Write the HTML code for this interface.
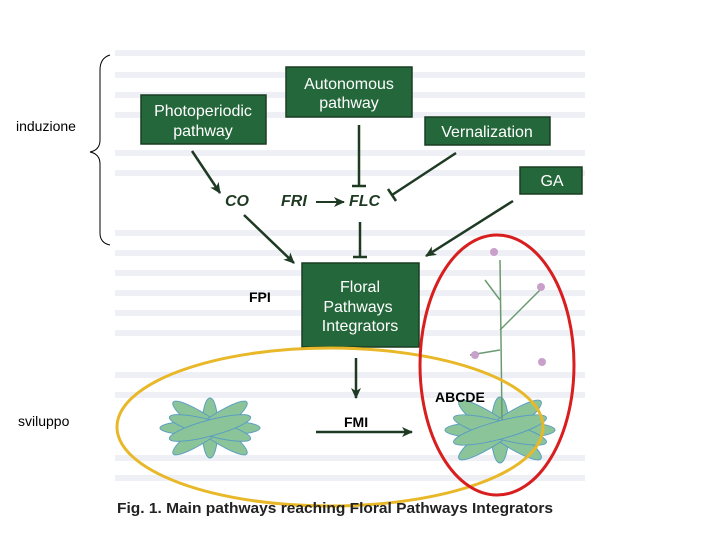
<!DOCTYPE html>
<html><head><style>body{margin:0;background:#fff}svg{display:block}</style></head><body>
<svg width="720" height="540" viewBox="0 0 720 540" xmlns="http://www.w3.org/2000/svg" font-family="Liberation Sans, sans-serif">
<defs><marker id="a" markerUnits="userSpaceOnUse" markerWidth="12" markerHeight="10" refX="10" refY="5" orient="auto"><path d="M0,0 L11,5 L0,10 L3,5 Z" fill="#1e3a22"/></marker></defs>
<g fill="#eef0f5">
<rect x="115" y="50" width="470" height="6"/><rect x="115" y="72" width="470" height="6"/><rect x="115" y="92" width="470" height="6"/><rect x="115" y="112" width="470" height="6"/><rect x="115" y="150" width="470" height="6"/><rect x="115" y="170" width="470" height="6"/><rect x="115" y="230" width="470" height="6"/><rect x="115" y="250" width="470" height="6"/><rect x="115" y="270" width="470" height="6"/><rect x="115" y="290" width="470" height="6"/><rect x="115" y="310" width="470" height="6"/><rect x="115" y="330" width="470" height="6"/><rect x="115" y="372" width="470" height="6"/><rect x="115" y="392" width="470" height="6"/><rect x="115" y="455" width="470" height="6"/><rect x="115" y="475" width="470" height="6"/>
</g>
<g fill="#24673a" stroke="#1a3d22" stroke-width="1.5">
<rect x="141" y="95" width="125" height="49"/><rect x="286" y="67" width="126" height="50"/><rect x="425" y="117" width="125" height="28"/><rect x="520" y="167" width="62" height="27"/><rect x="302" y="263" width="117" height="84"/>
</g>
<g fill="#fff" font-size="16" text-anchor="middle">
<text x="203" y="116">Photoperiodic</text><text x="203" y="136">pathway</text>
<text x="349" y="89">Autonomous</text><text x="349" y="108">pathway</text>
<text x="487" y="137">Vernalization</text><text x="552" y="186">GA</text>
<text x="360" y="292">Floral</text><text x="358" y="312">Pathways</text><text x="360" y="331">Integrators</text>
</g>
<g fill="#1e3a22" font-size="16" font-weight="bold" font-style="italic">
<text x="225" y="206">CO</text><text x="281" y="206">FRI</text><text x="349" y="206">FLC</text>
</g>
<g stroke="#1e3a22" stroke-width="2.5" fill="none">
<line x1="192" y1="151" x2="220" y2="193" marker-end="url(#a)"/>
<line x1="244" y1="215" x2="294" y2="263" marker-end="url(#a)"/>
<line x1="316" y1="202" x2="344" y2="202" stroke-width="2" marker-end="url(#a)"/>
<line x1="359" y1="125" x2="359" y2="186"/><line x1="352" y1="186" x2="366" y2="186"/>
<line x1="456" y1="153" x2="392" y2="195"/><line x1="388" y1="189" x2="396" y2="201"/>
<line x1="360" y1="222" x2="360" y2="257"/><line x1="353" y1="257" x2="367" y2="257"/>
<line x1="513" y1="201" x2="426" y2="256" marker-end="url(#a)"/>
<line x1="356" y1="358" x2="356" y2="398" marker-end="url(#a)"/>
<line x1="316" y1="432" x2="412" y2="432" marker-end="url(#a)"/>
</g>
<g fill="#8cc49a" stroke="#5a9ec0" stroke-width="1">
<ellipse cx="210" cy="428" rx="50" ry="8"/><ellipse cx="210" cy="428" rx="8" ry="30"/><ellipse cx="210" cy="428" rx="45" ry="9" transform="rotate(35 210 428)"/><ellipse cx="210" cy="428" rx="45" ry="9" transform="rotate(-35 210 428)"/><ellipse cx="210" cy="428" rx="42" ry="8" transform="rotate(15 210 428)"/><ellipse cx="210" cy="428" rx="42" ry="8" transform="rotate(-15 210 428)"/>
<ellipse cx="500" cy="430" rx="55" ry="9"/><ellipse cx="500" cy="430" rx="9" ry="33"/><ellipse cx="500" cy="430" rx="50" ry="10" transform="rotate(35 500 430)"/><ellipse cx="500" cy="430" rx="50" ry="10" transform="rotate(-35 500 430)"/><ellipse cx="500" cy="430" rx="48" ry="9" transform="rotate(15 500 430)"/><ellipse cx="500" cy="430" rx="48" ry="9" transform="rotate(-15 500 430)"/>
</g>
<g stroke="#6a9a70" stroke-width="1.5" fill="none"><path d="M502 420 L500 260"/><path d="M500 330 L540 290"/><path d="M500 350 L470 355"/><path d="M500 300 L485 280"/></g>
<g fill="#c9a0c9"><circle cx="494" cy="252" r="4"/><circle cx="541" cy="287" r="4"/><circle cx="542" cy="362" r="4"/><circle cx="475" cy="355" r="4"/></g>
<ellipse cx="330" cy="427" rx="213" ry="79" fill="none" stroke="#e8b828" stroke-width="3"/>
<ellipse cx="497" cy="365" rx="77" ry="130" fill="none" stroke="#d81e1e" stroke-width="3"/>
<path d="M110 55 Q100 58 100 70 L100 140 Q100 150 90 152 Q100 154 100 164 L100 233 Q100 243 110 245" fill="none" stroke="#000" stroke-width="1"/>
<g font-size="14" fill="#000">
<text x="16" y="131">induzione</text><text x="18" y="426">sviluppo</text>
<text x="249" y="302" font-weight="bold">FPI</text><text x="435" y="402" font-weight="bold">ABCDE</text><text x="344" y="427" font-weight="bold">FMI</text>
</g>
<text x="117" y="513" font-size="15" font-weight="bold" fill="#222" textLength="436" lengthAdjust="spacingAndGlyphs">Fig. 1. Main pathways reaching Floral Pathways Integrators</text>
</svg>
</body></html>
